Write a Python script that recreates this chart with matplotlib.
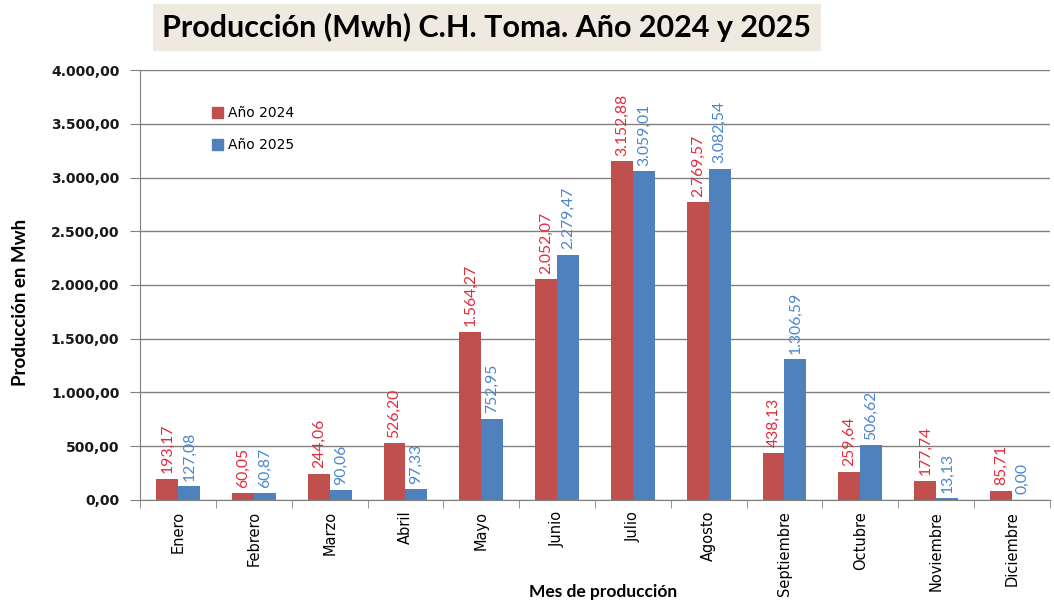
import matplotlib.pyplot as plt
import numpy as np
from matplotlib.patches import Patch
from matplotlib.ticker import FuncFormatter, FixedLocator


months = ["Enero", "Febrero", "Marzo", "Abril", "Mayo", "Junio", "Julio",
          "Agosto", "Septiembre", "Octubre", "Noviembre", "Diciembre"]
prod_2024 = [193.17, 60.05, 244.06, 526.20, 1564.27, 2052.07, 3152.88,
             2769.57, 438.13, 259.64, 177.74, 85.71]
prod_2025 = [127.08, 60.87, 90.06, 97.33, 752.95, 2279.47, 3059.01,
             3082.54, 1306.59, 506.62, 13.13, 0.00]

RED = "#c0504d"
BLUE = "#4f81bd"
RED_TXT = "#e32b3c"
BLUE_TXT = "#4a86d0"


def es_num(v, _pos=None):
    # 1234.5 -> "1.234,50"
    s = f"{v:,.2f}"
    return s.replace(",", "#").replace(".", ",").replace("#", ".")


fig = plt.figure(figsize=(10.54, 6.05), dpi=100)
ax = fig.add_axes([0.133, 0.174, 0.863, 0.71])

x = np.arange(len(months))
w = 0.29
bars_a = ax.bar(x - w / 2, prod_2024, w, color=RED, zorder=3)
bars_b = ax.bar(x + w / 2, prod_2025, w, color=BLUE, zorder=3)

for bars, vals, col in ((bars_a, prod_2024, RED_TXT), (bars_b, prod_2025, BLUE_TXT)):
    for b, v in zip(bars, vals):
        ax.annotate(es_num(v), (b.get_x() + b.get_width() / 2, v),
                    xytext=(0, 4), textcoords="offset points",
                    rotation=90, ha="center", va="bottom",
                    color=col, fontsize=11.3, family="Lato", zorder=4)

ax.set_xlim(-0.5, len(months) - 0.5)
ax.set_ylim(0, 4000)
ax.set_yticks(np.arange(0, 4001, 500))
ax.yaxis.set_major_formatter(FuncFormatter(es_num))
ax.grid(axis="y", color="#808080", linewidth=1.0, zorder=0)

ax.set_xticks(x)
ax.set_xticklabels(months, rotation=90, fontsize=10.5, va="top")
ax.xaxis.set_minor_locator(FixedLocator(np.arange(-0.5, len(months), 1)))
ax.tick_params(axis="x", which="major", length=0, pad=8)
ax.tick_params(axis="x", which="minor", length=6, color="#808080")
ax.tick_params(axis="y", length=7, color="#808080", labelsize=10, pad=8)
for lbl in ax.get_yticklabels():
    lbl.set_fontweight("bold")
    lbl.set_color("#1a1a1a")

for side in ("top", "right"):
    ax.spines[side].set_visible(False)
ax.spines["left"].set_color("#808080")
ax.spines["bottom"].set_color("#808080")

ax.set_ylabel("Producción en Mwh", family="Lato", fontweight="bold",
              fontsize=13.5)
ax.yaxis.set_label_coords(-0.122, 0.46)
fig.text(0.572, 0.008, "Mes de producción", family="Lato", fontweight="bold",
         fontsize=12.5, ha="center", va="bottom")

handles = [Patch(color=RED, label="Año 2024"), Patch(color=BLUE, label="Año 2025")]
ax.legend(handles=handles, loc="upper left", bbox_to_anchor=(0.065, 0.945),
          frameon=False, fontsize=10, handlelength=0.8, handleheight=0.8,
          handletextpad=0.35, labelspacing=1.3)

fig.text(0.462, 0.955, "Producción (Mwh) C.H. Toma. Año 2024 y 2025",
         family="Lato", fontweight="bold", fontsize=22, ha="center", va="center",
         bbox=dict(boxstyle="square,pad=0.3", facecolor="#eeeae0", edgecolor="none"))

fig.savefig("out.png", dpi=100)
